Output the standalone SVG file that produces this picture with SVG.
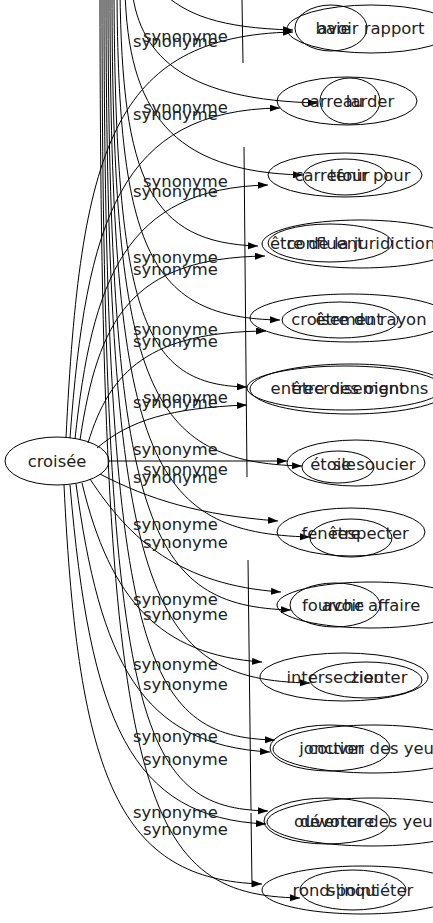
<svg xmlns="http://www.w3.org/2000/svg" width="433" height="923" viewBox="0 0 433 923">
<style>
text{font-family:"DejaVu Sans","Liberation Sans",sans-serif;font-size:16.4px;fill:#222}
.n{text-anchor:middle}
ellipse{fill:none;stroke:#000;stroke-width:1}
.e path{fill:none;stroke:#000;stroke-width:1}
.v{fill:none;stroke:#444;stroke-width:1}
</style>
<defs>
<marker id="a" markerUnits="userSpaceOnUse" markerWidth="11" markerHeight="8" refX="10" refY="3.5" orient="auto"><path d="M0,0 L10,3.5 L0,7 z" fill="#000"/></marker>
</defs>
<g id="connectors" class="e">
<g marker-end="url(#a)">
<path d="M66,438 C80,150 112,36 293,32"/>
<path d="M70,438 C86,220 120,110 280,108"/>
<path d="M75,439 C92,280 125,188 268,185"/>
<path d="M80,440 C98,320 130,258 265,256"/>
<path d="M88,443 C110,370 150,332 266,331"/>
<path d="M97,448 C130,420 170,408 247,405"/>
<path d="M109,461 L287,461"/>
<path d="M100,474 C150,500 200,515 278,521"/>
<path d="M90,479 C130,540 180,585 281,592"/>
<path d="M82,483 C110,600 160,655 262,662"/>
<path d="M76,484 C100,660 140,745 270,752"/>
<path d="M70,485 C90,720 130,818 266,824"/>
<path d="M64,485 C78,780 120,880 262,884"/>
<path d="M160,-10 C185,15 220,28 293,30"/>
<path d="M132,-10 C140,60 190,100 318,103"/>
<path d="M125,-10 C128,110 170,172 303,175"/>
<path d="M120,-10 C122,180 150,243 258,246"/>
<path d="M117,-10 C118,250 150,318 280,320"/>
<path d="M114,-10 C115,320 145,385 247,387"/>
<path d="M112,-10 C112,390 150,462 302,466"/>
<path d="M110,-10 C110,460 150,533 310,537"/>
<path d="M108,-10 C108,530 150,606 291,610"/>
<path d="M106,-10 C106,600 150,680 310,683"/>
<path d="M104,-10 C104,660 145,737 275,740"/>
<path d="M102,-10 C102,730 140,808 268,811"/>
<path d="M100,-10 C100,800 140,895 300,898"/>
</g>
<path class="v" d="M242,0 L243,63 M244,147 L247,477 M248,560 L251,810 M251,813 L252,887"/>
<text x="143" y="42">synonyme</text><text x="133" y="47">synonyme</text>
<text x="143" y="113">synonyme</text><text x="133" y="120">synonyme</text>
<text x="143" y="187">synonyme</text><text x="133" y="197">synonyme</text>
<text x="133" y="263">synonyme</text><text x="133" y="275">synonyme</text>
<text x="133" y="335">synonyme</text><text x="133" y="347">synonyme</text>
<text x="143" y="403">synonyme</text><text x="133" y="408">synonyme</text>
<text x="133" y="455">synonyme</text>
<text x="143" y="475">synonyme</text><text x="133" y="483">synonyme</text>
<text x="133" y="530">synonyme</text><text x="143" y="548">synonyme</text>
<text x="133" y="605">synonyme</text><text x="143" y="620">synonyme</text>
<text x="133" y="670">synonyme</text><text x="143" y="690">synonyme</text>
<text x="133" y="742">synonyme</text><text x="143" y="765">synonyme</text>
<text x="133" y="818">synonyme</text><text x="143" y="835">synonyme</text>
</g>
<g id="croisee"><ellipse cx="57" cy="461" rx="52" ry="24"/><text class="n" x="57" y="467">croisée</text></g>
<g id="n1"><ellipse cx="331" cy="28" rx="36" ry="23"/><text class="n" x="333" y="34">baie</text></g>
<g id="m1"><ellipse cx="371" cy="29" rx="84" ry="24"/><text class="n" x="371" y="34">avoir rapport</text></g>
<g id="n2"><ellipse cx="347" cy="101" rx="70" ry="24"/><text class="n" x="332" y="107">carreau</text></g>
<g id="m2"><ellipse cx="350" cy="101" rx="30" ry="23"/><text class="n" x="370" y="107">larder</text></g>
<g id="n3"><ellipse cx="345" cy="175" rx="77" ry="22"/><text class="n" x="332" y="181">carrefour</text></g>
<g id="m3"><ellipse cx="345" cy="177" rx="42" ry="18"/><text class="n" x="370" y="181">tenir pour</text></g>
<g id="n4"><ellipse cx="330" cy="243" rx="62" ry="19"/><text class="n" x="325" y="249">confluent</text></g>
<g id="m4"><ellipse cx="360" cy="244" rx="98" ry="24"/><text x="270" y="249">être de la juridiction</text></g>
<g id="n5"><ellipse cx="340" cy="320" rx="58" ry="18"/><text class="n" x="337" y="325">croisement</text></g>
<g id="m5"><ellipse cx="350" cy="318" rx="100" ry="24"/><text class="n" x="371" y="325">être du rayon</text></g>
<g id="n6"><ellipse cx="345" cy="388" rx="98" ry="22"/><text class="n" x="338" y="394">entrecroisement</text></g>
<g id="m6"><ellipse cx="350" cy="389" rx="100" ry="25"/><text class="n" x="360" y="394">être des oignons</text></g>
<g id="n7"><ellipse cx="338" cy="467" rx="36" ry="16"/><text class="n" x="333" y="470">étoile</text></g>
<g id="m7"><ellipse cx="356" cy="463" rx="69" ry="23"/><text class="n" x="374" y="470">se soucier</text></g>
<g id="n8"><ellipse cx="351" cy="532" rx="74" ry="24"/><text class="n" x="331" y="539">fenêtre</text></g>
<g id="m8"><ellipse cx="351" cy="538" rx="41" ry="19"/><text class="n" x="370" y="539">respecter</text></g>
<g id="n9"><ellipse cx="335" cy="605" rx="45" ry="22"/><text class="n" x="333" y="611">fourche</text></g>
<g id="m9"><ellipse cx="371" cy="605" rx="94" ry="23"/><text class="n" x="371" y="611">avoir affaire</text></g>
<g id="n10"><ellipse cx="344" cy="677" rx="84" ry="24"/><text class="n" x="335" y="683">intersection</text></g>
<g id="m10"><ellipse cx="366" cy="680" rx="56" ry="18"/><text class="n" x="379" y="683">zieuter</text></g>
<g id="n11"><ellipse cx="330" cy="748" rx="60" ry="23"/><text class="n" x="332" y="754">jonction</text></g>
<g id="m11"><ellipse cx="373" cy="749" rx="100" ry="24"/><text class="n" x="376" y="754">couver des yeux</text></g>
<g id="n12"><ellipse cx="327" cy="821" rx="63" ry="23"/><text class="n" x="334" y="827">ouverture</text></g>
<g id="m12"><ellipse cx="372" cy="822" rx="105" ry="24"/><text class="n" x="371" y="827">dévorer des yeux</text></g>
<g id="n13"><ellipse cx="353" cy="890" rx="53" ry="20"/><text class="n" x="335" y="896">rond-point</text></g>
<g id="m13"><ellipse cx="362" cy="890" rx="100" ry="24"/><text class="n" x="370" y="896">s'inquiéter</text></g>
</svg>
